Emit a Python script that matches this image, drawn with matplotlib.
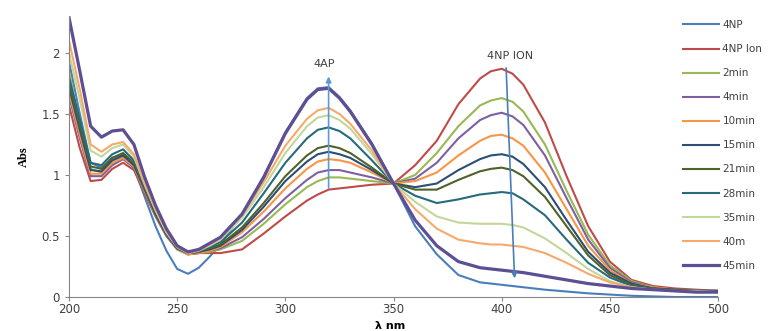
import matplotlib
import matplotlib.pyplot as plt

# No display available
matplotlib.use('Agg')

# wavelength grid (nm)
wavelength = [200, 205, 210, 215, 220, 225, 230, 235, 240, 245, 250, 255, 260, 265, 270,
              280, 290, 300, 310, 315, 320, 325, 330, 340, 350, 360, 370, 380, 390, 395, 400, 405,
              410, 420, 430, 440, 450, 460, 470, 480, 490, 500]

# absorbance
abs_4np = [1.93, 1.50, 1.10, 1.06, 1.14, 1.17, 1.06, 0.82, 0.58, 0.38, 0.23, 0.19, 0.24, 0.33, 0.43,
           0.68, 0.99, 1.35, 1.63, 1.71, 1.72, 1.64, 1.53, 1.26, 0.93, 0.58, 0.35, 0.18, 0.12, 0.11, 0.10, 0.09,
           0.08, 0.06, 0.045, 0.03, 0.02, 0.01, 0.005, 0.0, 0.0, 0.0]
abs_4np_ion = [1.57, 1.22, 0.95, 0.96, 1.05, 1.10, 1.04, 0.85, 0.66, 0.50, 0.39, 0.35, 0.36, 0.36, 0.36,
               0.39, 0.52, 0.66, 0.79, 0.84, 0.88, 0.89, 0.90, 0.92, 0.93, 1.08, 1.28, 1.58, 1.79, 1.85, 1.87, 1.83,
               1.74, 1.43, 0.99, 0.58, 0.29, 0.14, 0.09, 0.07, 0.06, 0.05]
abs_2min = [1.85, 1.42, 1.05, 1.02, 1.10, 1.15, 1.07, 0.87, 0.67, 0.51, 0.39, 0.35, 0.36, 0.37, 0.39,
            0.46, 0.60, 0.76, 0.90, 0.95, 0.98, 0.98, 0.97, 0.95, 0.93, 1.00, 1.18, 1.40, 1.57, 1.61, 1.63, 1.60,
            1.52, 1.25, 0.87, 0.51, 0.26, 0.13, 0.08, 0.06, 0.05, 0.05]
abs_4min = [1.65, 1.30, 0.99, 0.99, 1.08, 1.13, 1.06, 0.87, 0.67, 0.51, 0.40, 0.35, 0.36, 0.38, 0.40,
            0.49, 0.64, 0.81, 0.96, 1.02, 1.04, 1.04, 1.02, 0.98, 0.93, 0.97, 1.10, 1.30, 1.45, 1.49, 1.51, 1.48,
            1.41, 1.16, 0.81, 0.47, 0.24, 0.12, 0.08, 0.06, 0.05, 0.05]
abs_10min = [1.68, 1.33, 1.01, 1.01, 1.10, 1.14, 1.07, 0.87, 0.68, 0.51, 0.40, 0.35, 0.36, 0.38, 0.41,
             0.53, 0.70, 0.89, 1.05, 1.11, 1.13, 1.12, 1.10, 1.02, 0.93, 0.95, 1.02, 1.16, 1.28, 1.32, 1.33, 1.30,
             1.24, 1.02, 0.72, 0.42, 0.22, 0.11, 0.08, 0.06, 0.05, 0.04]
abs_15min = [1.72, 1.37, 1.04, 1.03, 1.12, 1.16, 1.08, 0.88, 0.68, 0.51, 0.40, 0.36, 0.37, 0.39, 0.42,
             0.55, 0.74, 0.95, 1.11, 1.17, 1.19, 1.17, 1.14, 1.04, 0.93, 0.90, 0.93, 1.04, 1.13, 1.16, 1.17, 1.15,
             1.09, 0.90, 0.63, 0.37, 0.20, 0.11, 0.07, 0.06, 0.05, 0.05]
abs_21min = [1.75, 1.40, 1.07, 1.05, 1.14, 1.18, 1.10, 0.89, 0.69, 0.52, 0.40, 0.36, 0.37, 0.40, 0.43,
             0.57, 0.77, 0.99, 1.16, 1.22, 1.24, 1.22, 1.18, 1.06, 0.93, 0.88, 0.88, 0.96, 1.03, 1.05, 1.06, 1.04,
             0.99, 0.82, 0.58, 0.34, 0.18, 0.10, 0.07, 0.06, 0.05, 0.05]
abs_28min = [1.80, 1.45, 1.10, 1.08, 1.17, 1.21, 1.12, 0.90, 0.70, 0.52, 0.40, 0.36, 0.37, 0.41, 0.45,
             0.61, 0.85, 1.10, 1.30, 1.37, 1.39, 1.36, 1.30, 1.12, 0.93, 0.83, 0.77, 0.80, 0.84, 0.85, 0.86, 0.85,
             0.80, 0.67, 0.47, 0.28, 0.16, 0.09, 0.07, 0.05, 0.05, 0.05]
abs_35min = [2.00, 1.62, 1.20, 1.15, 1.22, 1.25, 1.15, 0.92, 0.71, 0.53, 0.41, 0.36, 0.38, 0.42, 0.47,
             0.65, 0.90, 1.18, 1.40, 1.47, 1.49, 1.45, 1.38, 1.17, 0.93, 0.78, 0.66, 0.61, 0.60, 0.60, 0.60, 0.59,
             0.57, 0.48, 0.36, 0.23, 0.13, 0.08, 0.06, 0.05, 0.05, 0.04]
abs_40m = [2.10, 1.70, 1.25, 1.19, 1.25, 1.27, 1.17, 0.93, 0.72, 0.54, 0.41, 0.36, 0.38, 0.43, 0.48,
           0.67, 0.94, 1.24, 1.46, 1.53, 1.55, 1.50, 1.42, 1.20, 0.93, 0.72, 0.56, 0.47, 0.44, 0.43, 0.43, 0.42,
           0.41, 0.36, 0.28, 0.19, 0.12, 0.08, 0.06, 0.05, 0.04, 0.04]
abs_45min = [2.29, 1.85, 1.40, 1.31, 1.36, 1.37, 1.25, 0.98, 0.75, 0.56, 0.42, 0.37, 0.39, 0.44, 0.49,
             0.68, 0.98, 1.34, 1.62, 1.70, 1.71, 1.63, 1.52, 1.25, 0.93, 0.63, 0.42, 0.29, 0.24, 0.23, 0.22, 0.21,
             0.20, 0.17, 0.14, 0.11, 0.09, 0.07, 0.06, 0.05, 0.04, 0.04]

labels = ['4NP', '4NP Ion', '2min', '4min', '10min', '15min', '21min', '28min', '35min', '40m', '45min']
series = [abs_4np, abs_4np_ion, abs_2min, abs_4min, abs_10min, abs_15min,
          abs_21min, abs_28min, abs_35min, abs_40m, abs_45min]
colors = ['#4A7EBB', '#BE4B48', '#98B954', '#7D60A0', '#F79646', '#2C4D75',
          '#4F6228', '#276A7C', '#C3D69B', '#F6A96B', '#5E4F94']

fig = plt.figure(figsize=(7.77, 3.31), dpi=100)
ax = fig.add_axes([0.0888, 0.1027, 0.8353, 0.848])

for y, lab, c in zip(series, labels, colors):
    lw = 2.3 if lab == '45min' else 1.5
    ax.plot(wavelength, y, color=c, lw=lw, label=lab)

ax.set_xlim(200, 500)
ax.set_ylim(0, 2.3)
ax.set_xticks([200, 250, 300, 350, 400, 450, 500])
ax.set_yticks([0, 0.5, 1, 1.5, 2])
ax.set_yticklabels(['0', '0.5', '1', '1.5', '2'])

for s in ['top', 'right']:
    ax.spines[s].set_visible(False)
for s in ['left', 'bottom']:
    ax.spines[s].set_color('#868686')
ax.tick_params(axis='both', labelsize=8.5, colors='#868686', labelcolor='#404040', length=3)
ax.tick_params(axis='x', pad=1.5)

ax.set_ylabel('Abs', fontsize=9, fontweight='bold', fontfamily='Liberation Serif', labelpad=8)
fig.text(0.502, 0.0, 'λ nm', fontsize=8, fontweight='bold', ha='center', va='bottom')

# arrows for 4AP growth and 4NP ion decay
ax.annotate('', xy=(320, 1.83), xytext=(320, 0.87),
            arrowprops=dict(arrowstyle='-|>', color='#5B9BD5', lw=1.2, mutation_scale=8))
ax.text(318, 1.87, '4AP', fontsize=8, ha='center', va='bottom', color='#404040')
ax.annotate('', xy=(406, 0.13), xytext=(402, 1.9),
            arrowprops=dict(arrowstyle='-|>', color='#4A7EBB', lw=1.2, mutation_scale=8))
ax.text(404, 1.93, '4NP ION', fontsize=8, ha='center', va='bottom', color='#404040')

fig.legend(loc='upper left', bbox_to_anchor=(0.872, 0.955), frameon=False, fontsize=7.5,
           handlelength=3.5, handletextpad=0.3, labelspacing=1.35, borderpad=0, labelcolor='#404040')

plt.savefig('out.png', dpi=100)
